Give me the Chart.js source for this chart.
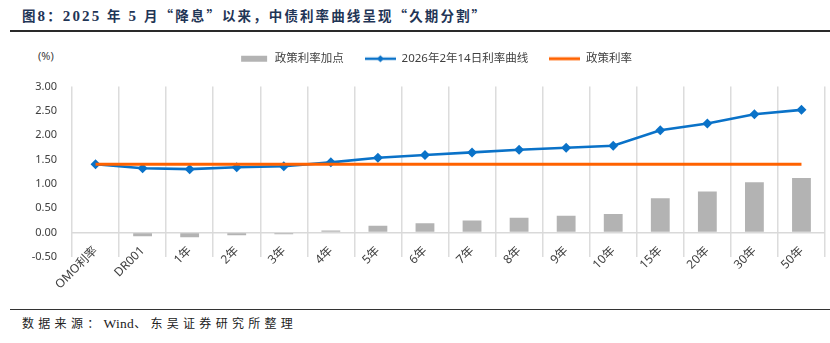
<!DOCTYPE html>
<html><head><meta charset="utf-8">
<script src="https://cdn.jsdelivr.net/npm/chart.js@4/dist/chart.umd.min.js"></script>
<style>
html,body{margin:0;padding:0;background:#fff;width:830px;height:343px;overflow:hidden;position:relative;}
#title{position:absolute;left:22px;top:5px;font-family:"Noto Sans CJK SC",sans-serif;font-weight:bold;font-size:13.5px;letter-spacing:2.1px;color:#1f3556;white-space:nowrap;line-height:20px;}
.lat{font-family:"Liberation Serif",serif;font-size:15px;}
#tline{position:absolute;left:10px;top:30px;width:820px;height:2px;background:#2a2a2a;}
#fline{position:absolute;left:10px;top:308.5px;width:820px;height:1.2px;background:#333;}
#foot{position:absolute;left:22px;top:314px;font-family:"Noto Sans CJK SC",sans-serif;font-size:12px;letter-spacing:4.3px;color:#222;white-space:nowrap;line-height:18px;}
#foot .w{font-family:"Liberation Serif",serif;font-size:13.5px;letter-spacing:0.3px;}
#unit{position:absolute;left:38px;top:49px;font-family:"Noto Sans","Noto Sans CJK SC",sans-serif;font-size:11px;color:#404040;line-height:14px;}
#wrap{position:absolute;left:0;top:24px;width:830px;height:278px;}
</style></head>
<body>
<div id="title">图<span class="lat">8</span>：<span class="lat">2025 </span>年<span class="lat"> 5 </span>月“降息”以来，中债利率曲线呈现“久期分割”</div>
<div id="tline"></div>
<div id="unit">(%)</div>
<div id="wrap"><canvas id="c" width="830" height="278"></canvas></div>
<div id="fline"></div>
<div id="foot">数据来源：<span class="w">Wind</span>、东吴证券研究所整理</div>
<script>
const categories = ["OMO利率","DR001","1年","2年","3年","4年","5年","6年","7年","8年","9年","10年","15年","20年","30年","50年"];
const curve20260214 = [1.40,1.32,1.30,1.34,1.36,1.44,1.535,1.59,1.645,1.70,1.74,1.78,2.10,2.24,2.43,2.52];
const spread = [0,-0.08,-0.10,-0.06,-0.04,0.04,0.135,0.19,0.245,0.30,0.34,0.38,0.70,0.84,1.03,1.12];
const policyRate = [1.40,1.40,1.40,1.40,1.40,1.40,1.40,1.40,1.40,1.40,1.40,1.40,1.40,1.40,1.40,1.40];
const seriesNames = ["政策利率加点","2026年2年14日利率曲线","政策利率"];
const yTicks = {min:-0.5, max:3.0, step:0.5};

const BLUE = "#0a72c8", ORANGE = "#ff6200", GRAY = "#b3b3b3";
const FONT = '"Noto Sans","Noto Sans CJK SC",sans-serif';

function legendImg(kind){
  const c = document.createElement('canvas');
  c.width = 31; c.height = 10;
  const g = c.getContext('2d');
  if(kind==='bar'){ g.fillStyle=GRAY; g.fillRect(3,2,26,6); }
  else if(kind==='line'){ g.strokeStyle=ORANGE; g.lineWidth=3; g.beginPath(); g.moveTo(0,5); g.lineTo(31,5); g.stroke(); }
  else { g.strokeStyle=BLUE; g.lineWidth=2.5; g.beginPath(); g.moveTo(0,5); g.lineTo(31,5); g.stroke();
    g.fillStyle=BLUE; g.beginPath(); g.moveTo(15.5,1.5); g.lineTo(19,5); g.lineTo(15.5,8.5); g.lineTo(12,5); g.closePath(); g.fill(); }
  return c;
}

const legendGap = {
  id:'legendGap',
  beforeInit(chart){
    const fit = chart.legend.fit;
    chart.legend.fit = function(){ fit.call(this); this.height += 12; };
  }
};

const noClip = (s)=>{ s._computeLabelArea = ()=>undefined; };

new Chart(document.getElementById('c'), {
  data: {
    labels: categories,
    datasets: [
      {type:'bar', label:seriesNames[0], data:spread, backgroundColor:GRAY, barPercentage:0.4, categoryPercentage:1.0, order:3},
      {type:'line', label:seriesNames[1], data:curve20260214, borderColor:BLUE, backgroundColor:BLUE, borderWidth:2.6, pointStyle:'rectRot', pointRadius:5, pointBackgroundColor:BLUE, pointBorderColor:BLUE, pointBorderWidth:0, tension:0, order:2},
      {type:'line', label:seriesNames[2], data:policyRate, borderColor:ORANGE, backgroundColor:ORANGE, borderWidth:3, pointRadius:0, tension:0, order:1}
    ]
  },
  plugins:[legendGap],
  options: {
    responsive:false, animation:false,
    layout:{padding:{left:45,right:5,top:8,bottom:0}},
    plugins:{
      tooltip:{enabled:false},
      legend:{
        position:'top', align:'center',
        labels:{
          usePointStyle:true, pointStyleWidth:31, padding:21,
          color:'#404040', font:{family:FONT,size:11.5},
          generateLabels:(chart)=>{
            const imgs=[legendImg('bar'),legendImg('blue'),legendImg('line')];
            return chart.data.datasets.map((d,i)=>({text:d.label,pointStyle:imgs[i],datasetIndex:i,fillStyle:'transparent',strokeStyle:'transparent',lineWidth:0,fontColor:'#404040',hidden:false}));
          }
        }
      }
    },
    scales:{
      x:{
        offset:true,
        grid:{offset:true, color:'#dcdcdc', lineWidth:1.5, drawTicks:false},
        border:{display:false},
        ticks:{autoSkip:false, maxRotation:45, minRotation:45, padding:-13, color:'#404040', font:{family:FONT,size:12}},
        afterFit:(s)=>{ s.height = 45.3; noClip(s); }
      },
      y:{
        min:yTicks.min, max:yTicks.max,
        grid:{drawTicks:false, lineWidth:1.5, color:(ctx)=> (ctx.tick && ctx.tick.value===0) ? '#d9d9d9' : 'rgba(0,0,0,0)'},
        border:{display:false},
        ticks:{stepSize:yTicks.step, padding:15, color:'#404040', font:{family:FONT,size:11}, callback:(v)=>Number(v).toFixed(2)},
        afterFit:(s)=>{ s.width = 27; noClip(s); }
      }
    }
  }
});
</script>
</body></html>
